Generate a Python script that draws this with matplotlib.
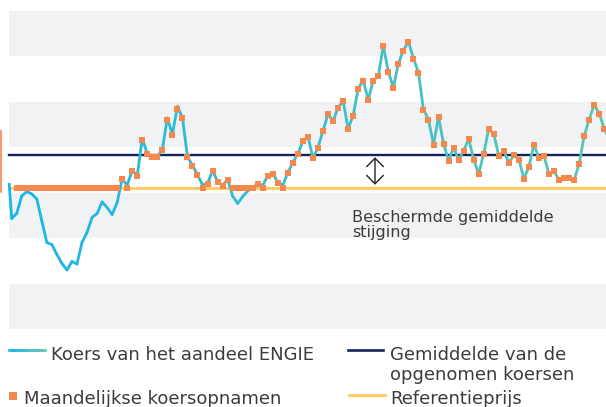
import numpy as np
import matplotlib
matplotlib.use("Agg")
import matplotlib.pyplot as plt
from matplotlib.collections import LineCollection
from matplotlib.colors import LinearSegmentedColormap
from matplotlib.lines import Line2D
from matplotlib.patches import Rectangle

# koers van het aandeel per maand (index, referentieprijs = 100)
koers_maand = np.r_[-1.5, np.arange(-1, 119)]
koers = [100.7, 93.8, 94.8, 98.3, 99.2, 98.7, 97.7, 93.3, 89.0, 88.6, 86.6,
         84.8, 83.5, 85.2, 84.7, 89.0, 91.0, 94.0, 94.8, 97.1, 96.0, 94.6,
         97.0, 101.7, 100.5, 103.4, 102.4, 109.8, 106.8, 106.1, 106.1, 107.6,
         113.9, 110.6, 116.2, 114.0, 106.2, 104.4, 102.6, 100.5, 100.8, 103.4,
         101.2, 100.4, 101.6, 98.3, 96.8, 98.2, 99.3, 100.0, 100.8, 100.4,
         102.4, 102.8, 101.0, 100.5, 103.0, 105.0, 106.8, 109.3, 110.2, 105.9,
         108.0, 111.4, 114.7, 113.3, 116.0, 117.3, 111.8, 114.4, 119.8, 121.4,
         117.6, 121.4, 122.3, 128.3, 123.2, 120.0, 124.8, 127.4, 129.2, 125.8,
         123.0, 115.6, 113.6, 108.6, 114.1, 108.8, 105.3, 108.0, 105.5, 107.4,
         109.7, 105.6, 102.7, 106.8, 111.7, 110.7, 106.3, 107.4, 104.9, 106.5,
         105.6, 101.7, 104.2, 108.5, 106.0, 106.3, 102.7, 103.3, 101.5, 102.0,
         102.0, 101.5, 104.7, 110.3, 113.6, 116.6, 114.8, 111.8, 109.5]

# maandelijkse koersopnamen (nooit lager dan de referentieprijs)
opname_maand = np.arange(0, 118)
opnamen = [100.0] * 21 + [
    101.7, 100.0, 103.4, 102.4, 109.5, 106.8, 106.1, 106.1, 107.6, 113.6,
    110.6, 115.8, 114.0, 106.2, 104.4, 102.6, 100.0, 100.8, 103.4, 101.2,
    100.4, 101.6, 100.0, 100.0, 100.0, 100.0, 100.0, 100.8, 100.0, 102.4,
    102.8, 101.0, 100.0, 103.0, 105.0, 106.8, 109.3, 110.2, 105.9, 108.0,
    111.4, 114.7, 113.3, 116.0, 117.3, 111.8, 114.4, 119.8, 121.4, 117.6,
    121.4, 122.3, 128.3, 123.2, 120.0, 124.8, 127.4, 129.2, 125.8, 123.0,
    115.6, 113.6, 108.6, 114.1, 108.8, 105.3, 108.0, 105.5, 107.4, 109.7,
    105.6, 102.7, 106.8, 111.7, 110.7, 106.3, 107.4, 104.9, 106.5, 105.6,
    101.7, 104.2, 108.5, 106.0, 106.3, 102.7, 103.3, 101.5, 102.0, 102.0,
    101.5, 104.7, 110.3, 113.6, 116.6, 114.8, 111.8]

referentieprijs = 100.0
gemiddelde = 106.6
pijl_maand = 71.35

W, H = 606, 407
tekst = '#3c3c3c'
oranje = '#f5884c'
navy = '#15225c'
geel = '#ffc95f'
cmap = LinearSegmentedColormap.from_list('koers', ['#19b5ea', '#5cc6b0'])

fig = plt.figure(figsize=(W / 100, H / 100), dpi=100)
ax = fig.add_axes([0, 1 - 335 / H, 1, 335 / H])
ax.set_xlim(-3.33, 117.35)
ax.set_ylim(70.5, 137.5)
ax.axis('off')

# grijze banden
banden = np.linspace(71.7, 135.3, 8)
for lo, hi in zip(banden[0::2], banden[1::2]):
    ax.axhspan(lo, hi, xmin=9 / W, color='#f1f2f4', lw=0, zorder=0)

ax.axhline(gemiddelde, xmin=9 / W, color=navy, lw=1.7, zorder=2)
ax.axhline(referentieprijs, xmin=10 / W, color=geel, lw=2.0, zorder=2)

# koerslijn met kleurverloop
pts = np.column_stack([koers_maand, koers])
segs = np.stack([pts[:-1], pts[1:]], axis=1)
mid = (pts[:-1, 0] + pts[1:, 0]) / 2
lc = LineCollection(segs, colors=cmap((mid - mid.min()) / (mid.max() - mid.min())),
                    lw=2.0, capstyle='round', joinstyle='round', zorder=3)
ax.add_collection(lc)

ax.plot(opname_maand, opnamen, 's', color=oranje, ms=3.7, mew=0, zorder=4)

ax.annotate('', xy=(pijl_maand, referentieprijs), xytext=(pijl_maand, gemiddelde),
            arrowprops=dict(arrowstyle='<->, head_length=0.6, head_width=0.6',
                            color='#222222', lw=1.0, shrinkA=2, shrinkB=2,
                            mutation_scale=10))
ax.text(66.8, 93.16, 'Beschermde gemiddelde', fontsize=11.6, color=tekst, va='baseline')
ax.text(66.8, 90.04, 'stijging', fontsize=11.6, color=tekst, va='baseline')

# afgesneden markering links
fig.add_artist(Line2D([0.8 / W, 0.8 / W], [1 - 131 / H, 1 - 192 / H],
                      color=oranje, lw=1.2, transform=fig.transFigure))


def fx(x):
    return x / W


def fy(y):
    return 1 - y / H


# legenda
lx = np.linspace(fx(8.5), fx(45), 12)
lpts = np.column_stack([lx, np.full_like(lx, fy(350))])
lsegs = np.stack([lpts[:-1], lpts[1:]], axis=1)
fig.add_artist(LineCollection(lsegs, colors=cmap(np.linspace(0, 1, len(lsegs))),
                              lw=1.9, capstyle='projecting', transform=fig.transFigure))
fig.text(fx(51), fy(360), 'Koers van het aandeel ENGIE', fontsize=13, color=tekst, va='baseline')

fig.add_artist(Rectangle((fx(8.5), fy(400)), 8 / W, 8 / H, color=oranje, lw=0,
                         transform=fig.transFigure))
fig.text(fx(23.5), fy(403.5), 'Maandelijkse koersopnamen', fontsize=13, color=tekst, va='baseline')

fig.add_artist(Line2D([fx(347.5), fx(383)], [fy(350), fy(350)], color=navy, lw=1.9,
                      transform=fig.transFigure))
fig.text(fx(389.5), fy(360.5), 'Gemiddelde van de', fontsize=13, color=tekst, va='baseline')
fig.text(fx(389.5), fy(380), 'opgenomen koersen', fontsize=13, color=tekst, va='baseline')

fig.add_artist(Line2D([fx(349), fx(384.5)], [fy(395), fy(395)], color=geel, lw=2.0,
                      transform=fig.transFigure))
fig.text(fx(390.5), fy(403.5), 'Referentieprijs', fontsize=13, color=tekst, va='baseline')

fig.savefig('out.png', dpi=100)
